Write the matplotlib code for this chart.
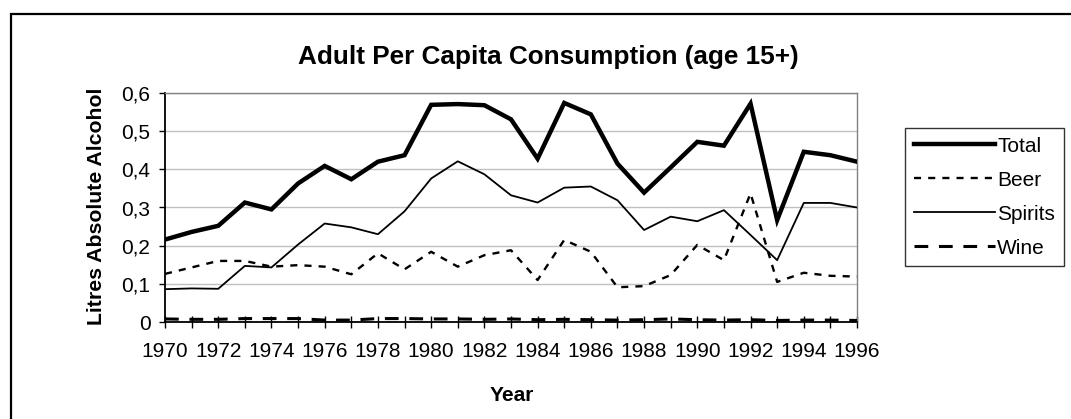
import numpy as np
import matplotlib
matplotlib.use("Agg")
import matplotlib.pyplot as plt
from matplotlib.patches import Rectangle

plt.rcParams["font.family"] = ["Liberation Sans", "DejaVu Sans"]

years = list(range(1970, 1997))
total = [0.216, 0.236, 0.252, 0.313, 0.295, 0.363, 0.409, 0.374, 0.420, 0.437,
         0.569, 0.571, 0.568, 0.531, 0.428, 0.574, 0.544, 0.415, 0.339, 0.405,
         0.472, 0.462, 0.572, 0.267, 0.446, 0.437, 0.420]
beer = [0.126, 0.143, 0.160, 0.160, 0.145, 0.149, 0.145, 0.125, 0.180, 0.138,
        0.184, 0.145, 0.175, 0.188, 0.110, 0.215, 0.184, 0.091, 0.094, 0.123,
        0.202, 0.162, 0.337, 0.105, 0.129, 0.121, 0.119]
spirits = [0.086, 0.088, 0.087, 0.147, 0.143, 0.203, 0.258, 0.248, 0.230, 0.290,
           0.376, 0.421, 0.387, 0.332, 0.313, 0.352, 0.355, 0.319, 0.241, 0.276,
           0.264, 0.293, 0.228, 0.162, 0.312, 0.312, 0.300]
wine = [0.008, 0.007, 0.007, 0.009, 0.009, 0.009, 0.005, 0.005, 0.009, 0.009,
        0.008, 0.008, 0.007, 0.008, 0.006, 0.007, 0.006, 0.005, 0.006, 0.008,
        0.006, 0.005, 0.006, 0.004, 0.005, 0.005, 0.004]
y_ticks = [0, 0.1, 0.2, 0.3, 0.4, 0.5, 0.6]
y_labels = ["0", "0,1", "0,2", "0,3", "0,4", "0,5", "0,6"]

W, H = 1071, 419
fig = plt.figure(figsize=(W / 100, H / 100), dpi=100)

# plot area in pixels: left 165, right 857, top 93, bottom 322
ax = fig.add_axes([165 / W, (H - 322) / H, (857 - 165) / W, (322 - 93) / H])

ax.plot(years, total, color="black", lw=3.2, solid_joinstyle="miter", label="Total", zorder=5)
ax.plot(years, beer, color="black", lw=1.7, dashes=(3, 3), label="Beer", zorder=4)
ax.plot(years, spirits, color="black", lw=1.3, label="Spirits", zorder=4)
ax.plot(years, wine, color="black", lw=2.2, dashes=(4.5, 3.5), label="Wine", zorder=4)

ax.set_xlim(1970, 1996)
ax.set_ylim(0, 0.6)
ax.set_xticks(years, minor=True)
ax.set_xticks(years[::2])
ax.set_xticklabels([str(y) for y in years[::2]])
ax.set_yticks(y_ticks)
ax.set_yticklabels(y_labels)
ax.grid(axis="y", color="#c0c0c0", lw=1)
ax.set_axisbelow(True)

ax.tick_params(axis="x", which="both", direction="inout", length=9, width=1,
               labelsize=15, pad=10)
ax.tick_params(axis="y", direction="out", length=4.5, width=1, labelsize=15, pad=6)

for side in ("left", "bottom"):
    ax.spines[side].set_color("black")
    ax.spines[side].set_linewidth(1.3)
for side in ("top", "right"):
    ax.spines[side].set_color("#808080")
    ax.spines[side].set_linewidth(1)

fig.text(548 / W, 1 - 57 / H, "Adult Per Capita Consumption (age 15+)",
         ha="center", va="center", fontsize=18.8, fontweight="bold")
fig.text(97 / W, 1 - 206 / H, "Litres Absolute Alcohol", rotation=90,
         ha="center", va="center", fontsize=15.3, fontweight="bold")
fig.text(512 / W, 1 - 395 / H, "Year", ha="center", va="center",
         fontsize=15, fontweight="bold")

leg = ax.legend(loc="upper left", bbox_to_anchor=(905 / W, 1 - 128 / H),
                bbox_transform=fig.transFigure, fontsize=15, frameon=True,
                fancybox=False, edgecolor="black", handlelength=3.9,
                handletextpad=0.1, labelspacing=0.72, borderpad=0.42,
                borderaxespad=0)
leg.get_frame().set_linewidth(1)

border = Rectangle((11 / W, -0.2), 1.2, 1.2 - 14 / H, transform=fig.transFigure,
                   fill=False, edgecolor="black", lw=1.6)
fig.add_artist(border)

fig.savefig("out.png", dpi=100)
